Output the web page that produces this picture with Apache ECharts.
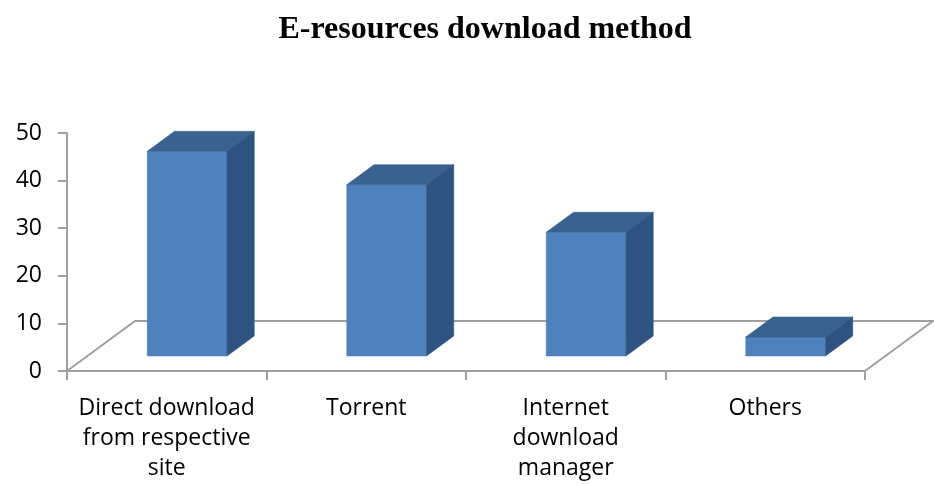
<!DOCTYPE html>
<html>
<head>
<meta charset="utf-8">
<script src="https://cdn.jsdelivr.net/npm/echarts@6/dist/echarts.min.js"></script>
<style>
  html, body { margin: 0; padding: 0; background: #ffffff; }
  #chart { width: 934px; height: 484px; }
</style>
</head>
<body>
<div id="chart"></div>
<script>
// Download methods and their shares
const categories = ['Direct download\nfrom respective\nsite', 'Torrent', 'Internet\ndownload\nmanager', 'Others'];
const values = [43, 36, 26, 4];
const yTicks = { min: 0, max: 50, step: 10 };

// Oblique projection of the floor depth (pixels along x and y)
const DEPTH = [68, -50];
const FRONT = 0.3, BACK = 0.7, BAR_W = 0.4;
const AXIS_GREY = '#a0a0a0';

const chart = echarts.init(document.getElementById('chart'));

function renderFloor(params, api) {
  const cs = params.coordSys;
  const x0 = cs.x, x1 = cs.x + cs.width, y0 = cs.y + cs.height;
  return {
    type: 'polyline',
    shape: {
      points: [
        [x0, y0], [x0 + DEPTH[0], y0 + DEPTH[1]],
        [x1 + DEPTH[0], y0 + DEPTH[1]], [x1, y0]
      ]
    },
    style: { stroke: AXIS_GREY, lineWidth: 2, fill: null }
  };
}

function renderBar(params, api) {
  const idx = api.value(0);
  const v = api.value(1);
  const base = api.coord([idx, 0]);
  const top = api.coord([idx, v]);
  const bw = api.size([1, 0])[0] * BAR_W;
  const fx = DEPTH[0] * FRONT, fy = DEPTH[1] * FRONT;
  const bx = DEPTH[0] * BACK, by = DEPTH[1] * BACK;
  const xl = base[0] - bw / 2, xr = base[0] + bw / 2;
  const yt = top[1], yb = base[1];
  return {
    type: 'group',
    children: [
      {
        type: 'polygon',
        shape: { points: [[xl + fx, yt + fy], [xr + fx, yt + fy], [xr + fx, yb + fy], [xl + fx, yb + fy]] },
        style: { fill: '#4f81bd', stroke: '#4a7ab4', lineWidth: 0.5 }
      },
      {
        type: 'polygon',
        shape: { points: [[xl + fx, yt + fy], [xr + fx, yt + fy], [xr + bx, yt + by], [xl + bx, yt + by]] },
        style: { fill: '#3a6291', stroke: '#37608d', lineWidth: 0.5 }
      },
      {
        type: 'polygon',
        shape: { points: [[xr + fx, yt + fy], [xr + bx, yt + by], [xr + bx, yb + by], [xr + fx, yb + fy]] },
        style: { fill: '#2f5381', stroke: '#2d507c', lineWidth: 0.5 }
      }
    ]
  };
}

chart.setOption({
  animation: false,
  backgroundColor: '#ffffff',
  title: {
    text: 'E-resources download method',
    left: 480,
    textAlign: 'center',
    top: 9,
    textStyle: {
      fontFamily: 'Liberation Serif',
      fontWeight: 'bold',
      fontSize: 32,
      color: '#000000'
    }
  },
  grid: { left: 67, top: 133, width: 798, height: 238 },
  xAxis: {
    type: 'category',
    data: categories,
    boundaryGap: true,
    axisLine: { show: true, lineStyle: { color: AXIS_GREY, width: 2 } },
    axisTick: { show: true, interval: 0, length: 9, lineStyle: { color: AXIS_GREY, width: 2 } },
    axisLabel: {
      interval: 0,
      margin: 22,
      fontFamily: 'Open Sans',
      fontSize: 23,
      lineHeight: 30,
      color: '#000000',
      align: 'center'
    },
    splitLine: { show: false }
  },
  yAxis: {
    type: 'value',
    min: yTicks.min,
    max: yTicks.max,
    interval: yTicks.step,
    axisLine: { show: true, lineStyle: { color: AXIS_GREY, width: 2 } },
    axisTick: { show: true, length: 9, lineStyle: { color: AXIS_GREY, width: 2 } },
    axisLabel: {
      margin: 25,
      fontFamily: 'Open Sans',
      fontSize: 23,
      color: '#000000'
    },
    splitLine: { show: false }
  },
  series: [
    {
      type: 'custom',
      name: 'floor',
      clip: false,
      z: 1,
      data: [[0, 0]],
      renderItem: renderFloor,
      silent: true
    },
    {
      type: 'custom',
      name: 'Download method',
      clip: false,
      z: 3,
      encode: { x: 0, y: 1 },
      data: values.map((v, i) => [i, v]),
      renderItem: renderBar
    }
  ]
});
</script>
</body>
</html>
